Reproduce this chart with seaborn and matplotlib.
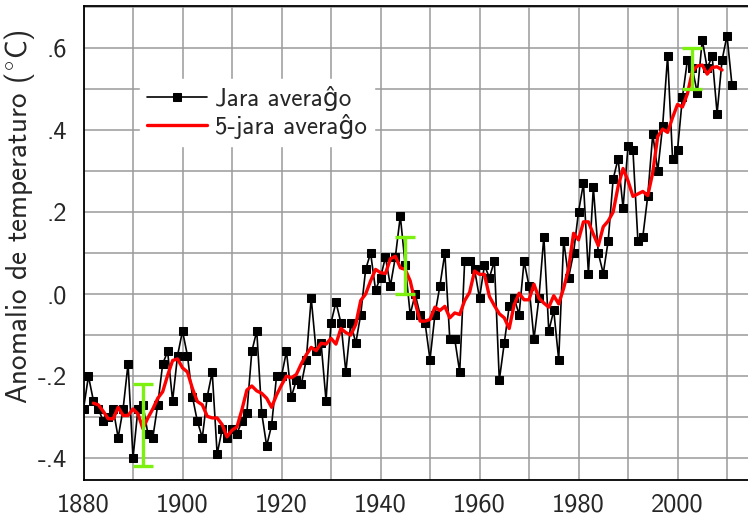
import numpy as np
import pandas as pd
import matplotlib
matplotlib.use("Agg")
import matplotlib.pyplot as plt
import seaborn as sns

years = list(range(1880, 2012))
anomaly = [
    -0.28, -0.20, -0.26, -0.28, -0.31, -0.30, -0.28, -0.35, -0.28, -0.17,
    -0.40, -0.28, -0.27, -0.34, -0.35, -0.27, -0.17, -0.14, -0.26, -0.15,
    -0.09, -0.15, -0.25, -0.31, -0.35, -0.25, -0.19, -0.39, -0.33, -0.35,
    -0.33, -0.34, -0.31, -0.29, -0.14, -0.09, -0.29, -0.37, -0.32, -0.20,
    -0.20, -0.14, -0.25, -0.21, -0.22, -0.16, -0.01, -0.14, -0.12, -0.26,
    -0.07, -0.02, -0.07, -0.19, -0.07, -0.12, -0.05, 0.06, 0.10, 0.01,
    0.04, 0.09, 0.02, 0.09, 0.19, 0.07, -0.05, 0.00, -0.05, -0.07,
    -0.16, -0.05, 0.02, 0.10, -0.11, -0.11, -0.19, 0.08, 0.08, 0.06,
    -0.01, 0.07, 0.04, 0.08, -0.21, -0.12, -0.03, -0.01, -0.05, 0.08,
    0.02, -0.11, -0.01, 0.14, -0.09, -0.04, -0.16, 0.13, 0.04, 0.10,
    0.20, 0.27, 0.05, 0.26, 0.10, 0.05, 0.13, 0.28, 0.33, 0.21,
    0.36, 0.35, 0.13, 0.14, 0.24, 0.39, 0.30, 0.41, 0.58, 0.33,
    0.35, 0.48, 0.57, 0.55, 0.49, 0.62, 0.55, 0.58, 0.44, 0.57,
    0.63, 0.51,
]

err_years = [1892, 1945, 2003]
err_center = [-0.32, 0.07, 0.55]
err_half = [0.10, 0.07, 0.05]

ytick_vals = [-0.4, -0.2, 0.0, 0.2, 0.4, 0.6]
ytick_labels = ["-.4", "-.2", ".0", ".2", ".4", ".6"]
xtick_vals = [1880, 1900, 1920, 1940, 1960, 1980, 2000]

df = pd.DataFrame({"year": years, "anom": anomaly})
df["avg5"] = df["anom"].rolling(5, center=True).mean()
df5 = df.dropna()

sns.set_style("white")
plt.rcParams["font.family"] = ["cmss10", "DejaVu Sans"]
plt.rcParams["mathtext.fontset"] = "cm"
plt.rcParams["axes.unicode_minus"] = False

W, H = 748, 516
fig = plt.figure(figsize=(W / 100, H / 100), dpi=100)
L, R, T, B = 83.5, 748, 6, 479.5
ax = fig.add_axes([L / W, 1 - B / H, (R - L) / W, (B - T) / H])

sns.lineplot(data=df, x="year", y="anom", ax=ax, color="black", lw=1.2,
             marker="s", markersize=5.5, markeredgecolor="black",
             markerfacecolor="black", label="Jara averaĝo", zorder=3)
sns.lineplot(data=df5, x="year", y="avg5", ax=ax, color="red", lw=2.4,
             label="5-jara averaĝo", zorder=4)
ax.errorbar(err_years, err_center, yerr=err_half, fmt="none",
            ecolor="#7cf00e", elinewidth=2.4, capsize=7, capthick=2.4, zorder=6)

ax.set_xlim(1880, 1880 + (R - L) / 4.95)
ax.set_ylim(-0.452, 0.702)
ax.set_xticks(xtick_vals)
ax.set_xticks(np.arange(1890, 2015, 10), minor=True)
ax.set_yticks(ytick_vals)
ax.set_yticklabels(ytick_labels)
ax.set_yticks(np.arange(-0.4, 0.71, 0.1), minor=True)
ax.grid(True, which="both", color="#9a9a9a", lw=1.1)
ax.tick_params(which="both", length=0)
ax.tick_params(axis="y", pad=12, labelsize=19)
ax.tick_params(axis="x", pad=10, labelsize=19)
for s in ["left", "bottom", "top"]:
    ax.spines[s].set_color("black")
    ax.spines[s].set_linewidth(1.3)
ax.spines["right"].set_visible(False)

ax.set_xlabel("")
ax.set_ylabel(r"Anomalio de temperaturo ($^{\circ}$C)", fontsize=21)
ax.yaxis.set_label_coords(-0.0705, 0.555)

leg = ax.legend(loc="upper left", bbox_to_anchor=(0.066, 0.873), fontsize=18,
                frameon=True, fancybox=False, edgecolor="white",
                facecolor="white", framealpha=1.0, handlelength=2.4,
                handletextpad=0.3, borderpad=0.3, labelspacing=0.1)
leg.set_zorder(10)

fig.savefig("out.png", dpi=100)
